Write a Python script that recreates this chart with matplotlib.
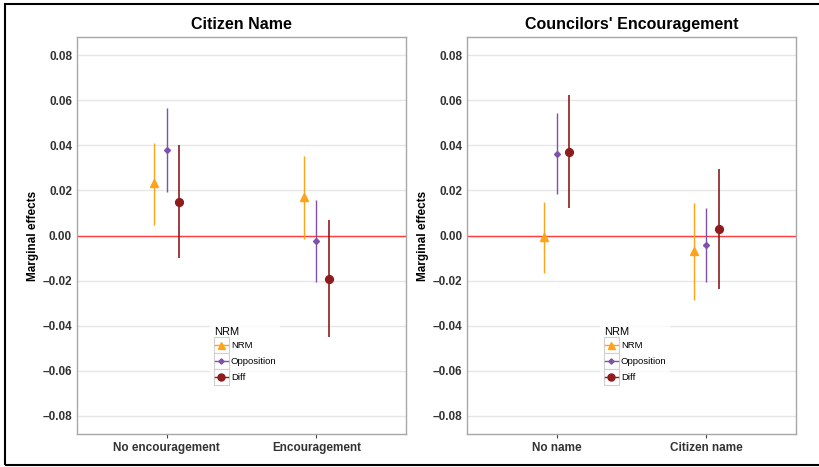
import numpy as np
import matplotlib.pyplot as plt
from matplotlib.lines import Line2D
from matplotlib.patches import Rectangle
from matplotlib.legend_handler import HandlerBase

plt.rcParams['font.family'] = ['Liberation Sans', 'DejaVu Sans']

# ---- data ----
groups = ['NRM', 'Opposition', 'Diff']

left_title = 'Citizen Name'
left_cats = ['No encouragement', 'Encouragement']
left_est = {'NRM': [0.0232, 0.0170],
            'Opposition': [0.0379, -0.0025],
            'Diff': [0.0150, -0.0193]}
left_lo = {'NRM': [0.0046, -0.0015],
           'Opposition': [0.0194, -0.0207],
           'Diff': [-0.0101, -0.0450]}
left_hi = {'NRM': [0.0412, 0.0351],
           'Opposition': [0.0564, 0.0156],
           'Diff': [0.0401, 0.0067]}

right_title = "Councilors' Encouragement"
right_cats = ['No name', 'Citizen name']
right_est = {'NRM': [-0.0008, -0.0070],
             'Opposition': [0.0363, -0.0043],
             'Diff': [0.0372, 0.0030]}
right_lo = {'NRM': [-0.0166, -0.0288],
            'Opposition': [0.0182, -0.0206],
            'Diff': [0.0121, -0.0237]}
right_hi = {'NRM': [0.0148, 0.0142],
            'Opposition': [0.0544, 0.0120],
            'Diff': [0.0622, 0.0295]}

yticks = [-0.08, -0.06, -0.04, -0.02, 0.0, 0.02, 0.04, 0.06, 0.08]

# ---- styles ----
colors = {'NRM': '#FFA31A', 'Opposition': '#7E52A8', 'Diff': '#8E1B1E'}
markers = {'NRM': '^', 'Opposition': 'D', 'Diff': 'o'}
msize = {'NRM': 5.6, 'Opposition': 3.0, 'Diff': 5.6}
offsets = {'NRM': -0.085, 'Opposition': 0.0, 'Diff': 0.085}
lwidth = {'NRM': 1.0, 'Opposition': 1.0, 'Diff': 1.2}


class KeyBox(HandlerBase):
    def create_artists(self, legend, orig_handle, xdescent, ydescent,
                       width, height, fontsize, trans):
        rect = Rectangle((-xdescent, -ydescent), width, height,
                         facecolor='white', edgecolor='#d0d0d0', lw=0.8,
                         transform=trans)
        yc = -ydescent + height / 2
        ln = Line2D([-xdescent + 1, -xdescent + width - 1], [yc, yc],
                    color=orig_handle.get_color(), lw=1.0, transform=trans)
        mk = Line2D([-xdescent + width / 2], [yc],
                    marker=orig_handle.get_marker(),
                    markersize=orig_handle.get_markersize(),
                    color=orig_handle.get_color(), linestyle='none',
                    transform=trans)
        return [rect, ln, mk]


def fmt(v):
    s = '%.2f' % abs(v)
    return '\u2013' + s if v < -1e-9 else s


def draw_panel(ax, title, cats, est, lo, hi):
    x = np.arange(1, len(cats) + 1)
    for g in groups:
        xs = x + offsets[g]
        e = np.array(est[g])
        yerr = [e - np.array(lo[g]), np.array(hi[g]) - e]
        ax.errorbar(xs, e, yerr=yerr, fmt=markers[g], color=colors[g],
                    ms=msize[g], elinewidth=lwidth[g], capsize=0, zorder=3)
    ax.axhline(0, color='#FF3B3B', lw=1.0, zorder=2)
    ax.set_xlim(0.4, 2.6)
    ax.set_ylim(-0.088, 0.088)
    ax.set_yticks(yticks)
    ax.set_yticklabels([fmt(v) for v in yticks])
    ax.set_xticks(x)
    ax.set_xticklabels(cats)
    ax.grid(axis='y', color='#e6e6e6', lw=1.0, zorder=0)
    ax.set_axisbelow(True)
    for s in ax.spines.values():
        s.set_color('#a8a8a8')
        s.set_linewidth(1.0)
    ax.tick_params(axis='y', length=0, pad=3.5, labelsize=8.5, labelcolor='#333333')
    ax.tick_params(axis='x', length=3, color='#444444', pad=3,
                   labelsize=8.5, labelcolor='#333333')
    for lab in ax.get_xticklabels() + ax.get_yticklabels():
        lab.set_fontweight('bold')
    ax.set_ylabel('Marginal effects', fontsize=8.5, fontweight='bold')
    ax.yaxis.set_label_coords(-0.115, 0.5)
    ax.set_title(title, fontsize=11.5, fontweight='bold', pad=6)

    handles = [Line2D([], [], color=colors[g], marker=markers[g], ms=msize[g] * 0.9)
               for g in groups]
    leg = ax.legend(handles, groups, title='NRM', loc='upper left',
                    bbox_to_anchor=(0.39, 0.29), fontsize=6.8,
                    title_fontsize=8, handler_map={Line2D: KeyBox()},
                    handlelength=1.6, handleheight=2.2, labelspacing=0,
                    handletextpad=0.2, borderpad=0.4, frameon=True,
                    alignment='left')
    leg.get_frame().set_edgecolor('white')
    leg.get_frame().set_linewidth(0)
    leg.get_frame().set_boxstyle('square', pad=0)


fig = plt.figure(figsize=(8.19, 4.67), dpi=100)
ax1 = fig.add_axes([0.094, 0.0707, 0.4017, 0.850])
ax2 = fig.add_axes([0.5702, 0.0707, 0.4017, 0.850])
draw_panel(ax1, left_title, left_cats, left_est, left_lo, left_hi)
draw_panel(ax2, right_title, right_cats, right_est, right_lo, right_hi)

# outer border
fig.patches.append(Rectangle((5 / 819, 2 / 467), 1.0, 461 / 467,
                             transform=fig.transFigure, fill=False,
                             edgecolor='black', lw=1.5))

plt.savefig('out.png', dpi=100)
